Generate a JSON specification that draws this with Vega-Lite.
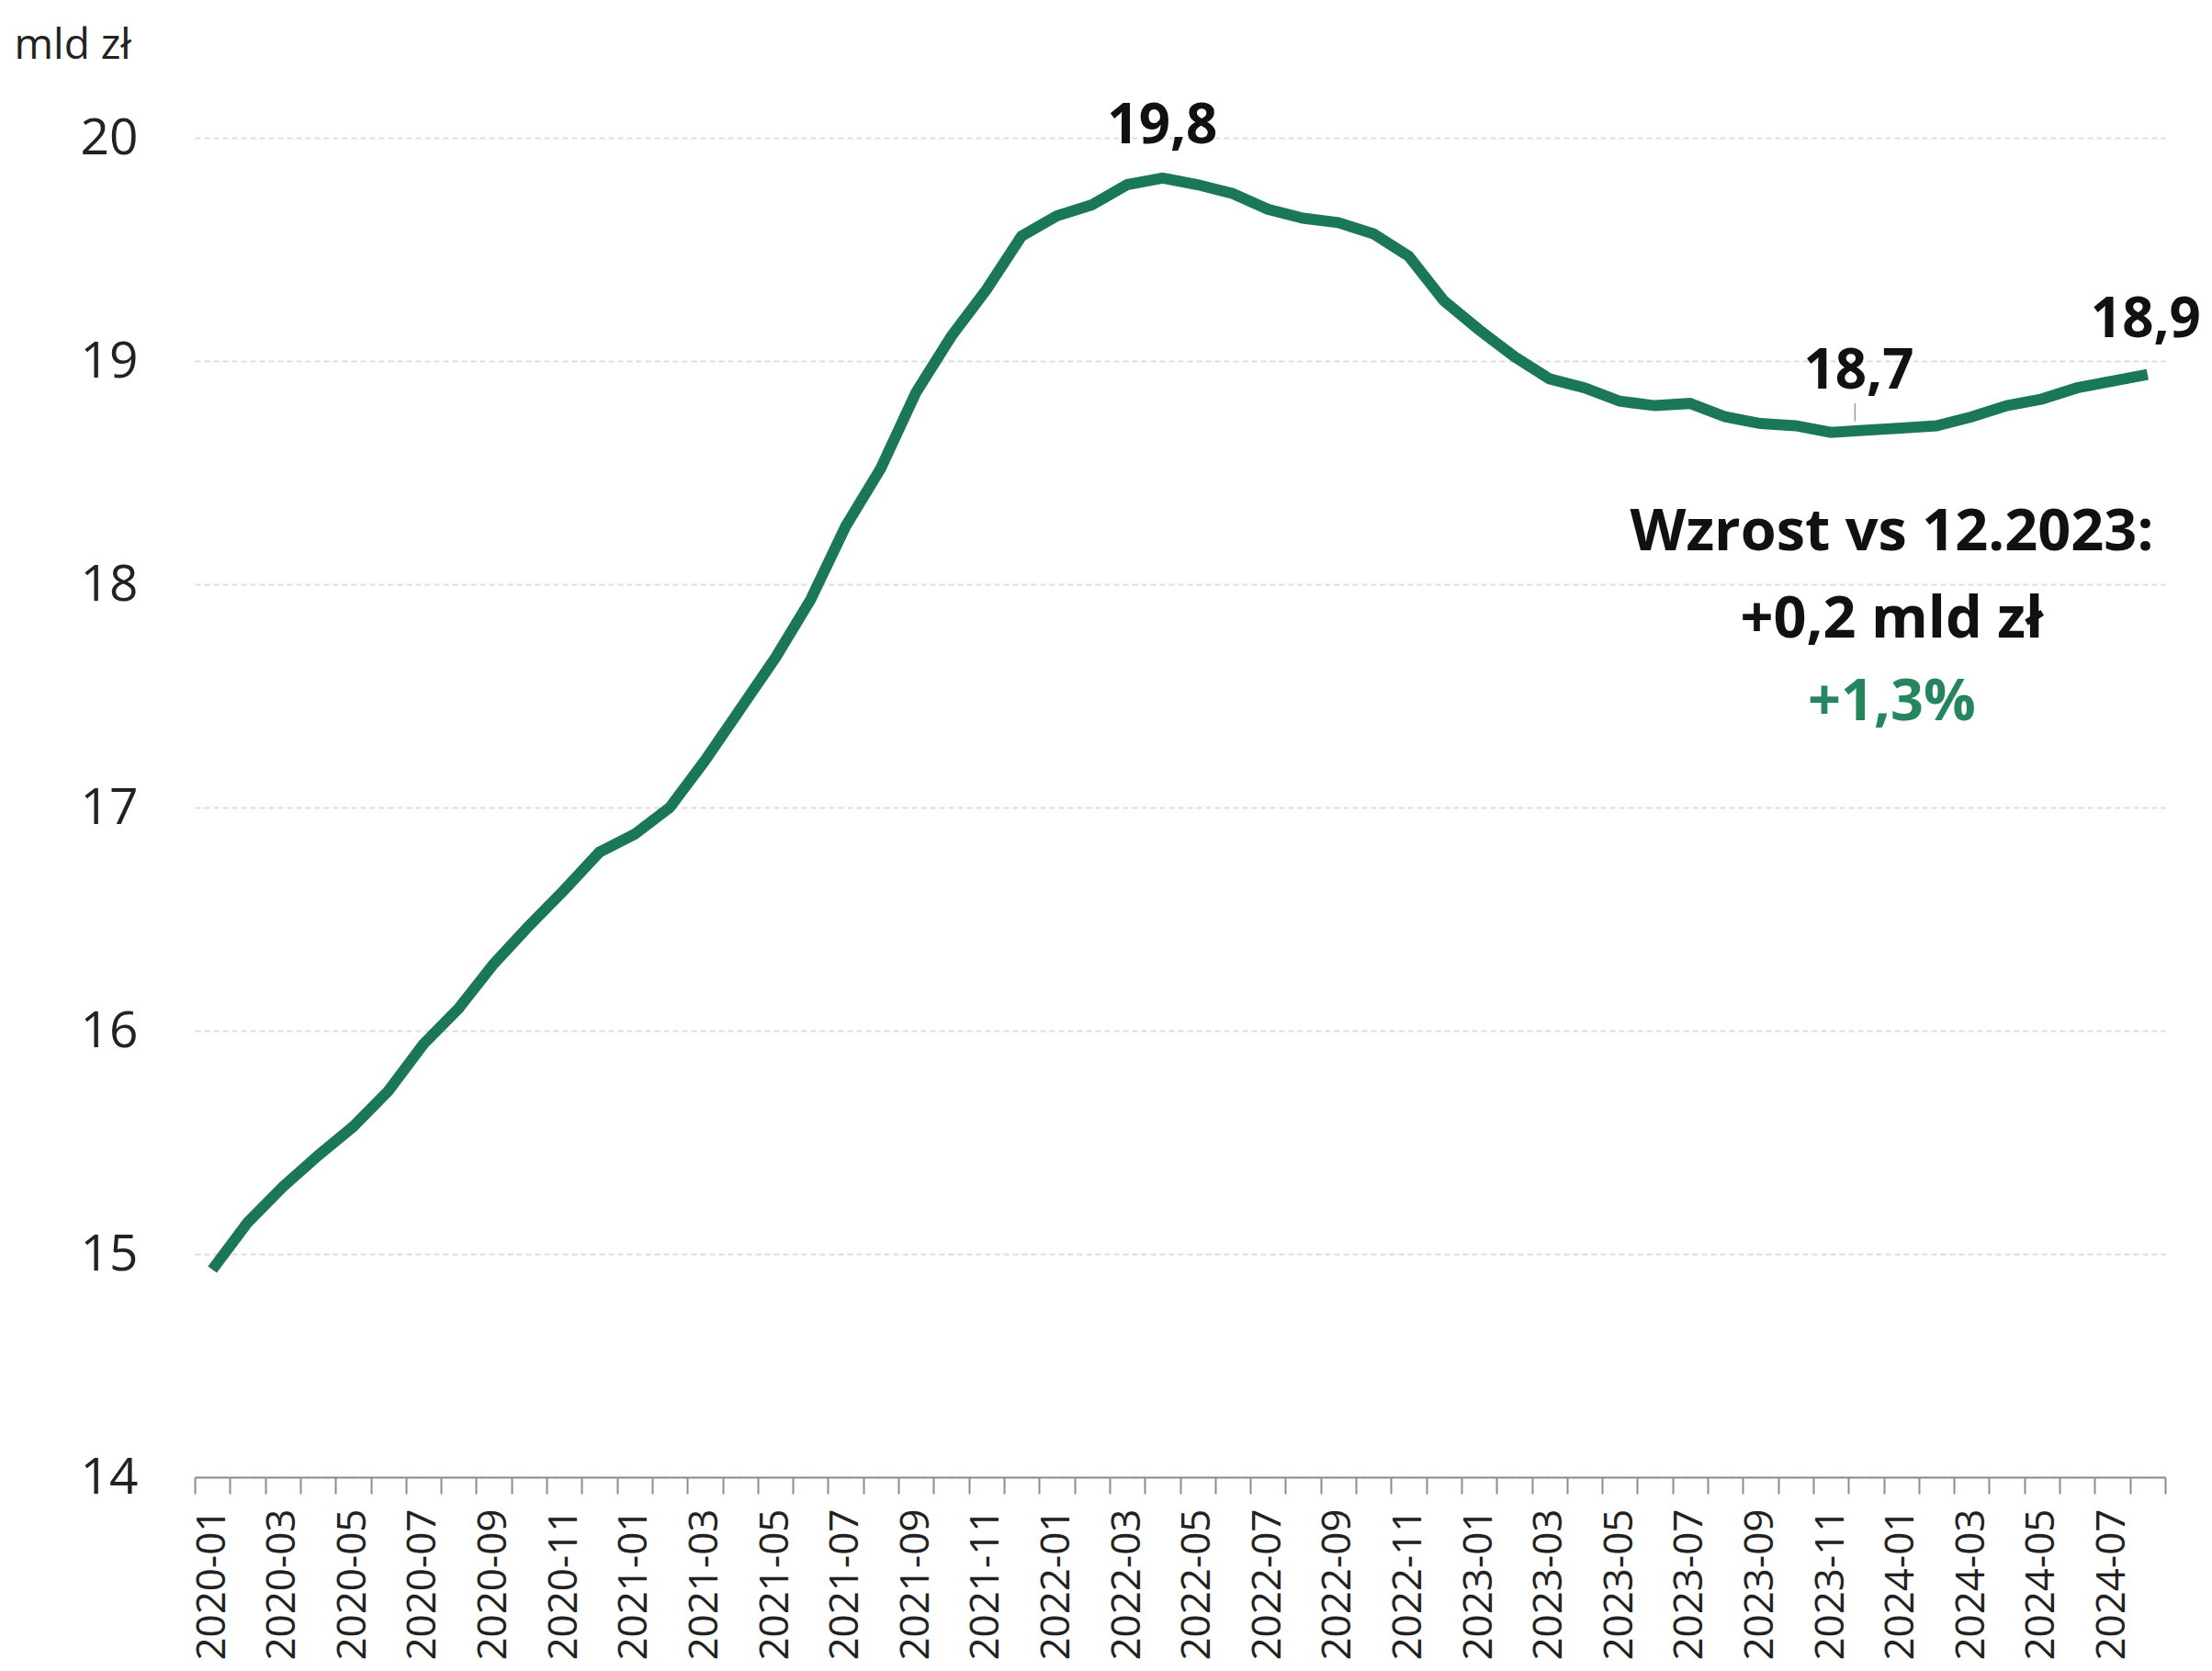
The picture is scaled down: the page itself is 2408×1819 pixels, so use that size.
{
  "$schema": "https://vega.github.io/schema/vega-lite/v6.json",
  "width": 2145,
  "height": 1458,
  "padding": {"left": 15, "top": 26, "right": 5, "bottom": 5},
  "background": "white",
  "config": {
    "view": {"stroke": null},
    "font": "Open Sans"
  },
  "datasets": {
    "series": [
      {"month": "2020-01", "value": 14.93},
      {"month": "2020-02", "value": 15.14},
      {"month": "2020-03", "value": 15.30},
      {"month": "2020-04", "value": 15.44},
      {"month": "2020-05", "value": 15.57},
      {"month": "2020-06", "value": 15.73},
      {"month": "2020-07", "value": 15.94},
      {"month": "2020-08", "value": 16.10},
      {"month": "2020-09", "value": 16.30},
      {"month": "2020-10", "value": 16.47},
      {"month": "2020-11", "value": 16.63},
      {"month": "2020-12", "value": 16.80},
      {"month": "2021-01", "value": 16.88},
      {"month": "2021-02", "value": 17.00},
      {"month": "2021-03", "value": 17.21},
      {"month": "2021-04", "value": 17.44},
      {"month": "2021-05", "value": 17.67},
      {"month": "2021-06", "value": 17.93},
      {"month": "2021-07", "value": 18.26},
      {"month": "2021-08", "value": 18.52},
      {"month": "2021-09", "value": 18.86},
      {"month": "2021-10", "value": 19.11},
      {"month": "2021-11", "value": 19.32},
      {"month": "2021-12", "value": 19.56},
      {"month": "2022-01", "value": 19.65},
      {"month": "2022-02", "value": 19.70},
      {"month": "2022-03", "value": 19.79},
      {"month": "2022-04", "value": 19.82},
      {"month": "2022-05", "value": 19.79},
      {"month": "2022-06", "value": 19.75},
      {"month": "2022-07", "value": 19.68},
      {"month": "2022-08", "value": 19.64},
      {"month": "2022-09", "value": 19.62},
      {"month": "2022-10", "value": 19.57},
      {"month": "2022-11", "value": 19.47},
      {"month": "2022-12", "value": 19.27},
      {"month": "2023-01", "value": 19.14},
      {"month": "2023-02", "value": 19.02},
      {"month": "2023-03", "value": 18.92},
      {"month": "2023-04", "value": 18.88},
      {"month": "2023-05", "value": 18.82},
      {"month": "2023-06", "value": 18.80},
      {"month": "2023-07", "value": 18.81},
      {"month": "2023-08", "value": 18.75},
      {"month": "2023-09", "value": 18.72},
      {"month": "2023-10", "value": 18.71},
      {"month": "2023-11", "value": 18.68},
      {"month": "2023-12", "value": 18.69},
      {"month": "2024-01", "value": 18.70},
      {"month": "2024-02", "value": 18.71},
      {"month": "2024-03", "value": 18.75},
      {"month": "2024-04", "value": 18.80},
      {"month": "2024-05", "value": 18.83},
      {"month": "2024-06", "value": 18.88},
      {"month": "2024-07", "value": 18.91},
      {"month": "2024-08", "value": 18.94}
    ]
  },
  "layer": [
    {
      "data": {"name": "series"},
      "mark": {"type": "line", "color": "#1a7857", "strokeWidth": 12},
      "encoding": {
        "x": {
          "field": "month", "type": "ordinal",
          "scale": {"type": "band", "paddingInner": 0, "paddingOuter": 0},
          "axis": {
            "title": null,
            "tickBand": "extent",
            "labelAngle": -90,
            "labelAlign": "right",
            "labelBaseline": "middle",
            "labelFontSize": 44,
            "labelColor": "#222222",
            "labelPadding": 16,
            "labelOverlap": false,
            "labelExpr": "indexof(['01','03','05','07','09','11'], substring(datum.value + '', 5, 7)) >= 0 ? datum.value + '' : ''",
            "domainColor": "#8c8c8c",
            "domainWidth": 2,
            "tickColor": "#8c8c8c",
            "tickWidth": 2,
            "tickSize": 18,
            "grid": false
          }
        },
        "y": {
          "field": "value", "type": "quantitative",
          "scale": {"domain": [14, 20], "nice": false, "zero": false},
          "axis": {
            "values": [14, 15, 16, 17, 18, 19, 20],
            "format": "d",
            "title": "mld zł",
            "titleAngle": 0,
            "titleAlign": "left",
            "titleBaseline": "middle",
            "titleX": -197,
            "titleY": -101,
            "titleFontSize": 46,
            "titleFontWeight": "normal",
            "titleColor": "#222222",
            "labelFontSize": 55,
            "labelColor": "#222222",
            "labelPadding": 62,
            "ticks": false,
            "domain": false,
            "grid": true,
            "gridColor": "#dedede",
            "gridWidth": 2,
            "gridDash": [6, 4]
          }
        }
      }
    },
    {
      "data": {"values": [{"month": "2023-12", "from": 18.73, "to": 18.81}]},
      "mark": {"type": "rule", "color": "#9a9a9a", "strokeWidth": 1.5, "xOffset": -12},
      "encoding": {
        "x": {"field": "month", "type": "ordinal"},
        "y": {"field": "from", "type": "quantitative"},
        "y2": {"field": "to"}
      }
    },
    {
      "data": {"values": [
        {"month": "2022-04", "value": 20.05, "label": "19,8"}
      ]},
      "mark": {"type": "text", "fontSize": 60, "fontWeight": "bold", "color": "#111111", "align": "center", "baseline": "middle", "dx": 0},
      "encoding": {
        "x": {"field": "month", "type": "ordinal"},
        "y": {"field": "value", "type": "quantitative"},
        "text": {"field": "label"}
      }
    },
    {
      "data": {"values": [
        {"month": "2023-12", "value": 18.95, "label": "18,7"}
      ]},
      "mark": {"type": "text", "fontSize": 60, "fontWeight": "bold", "color": "#111111", "align": "center", "baseline": "middle", "dx": -8},
      "encoding": {
        "x": {"field": "month", "type": "ordinal"},
        "y": {"field": "value", "type": "quantitative"},
        "text": {"field": "label"}
      }
    },
    {
      "data": {"values": [
        {"month": "2024-08", "value": 19.18, "label": "18,9"}
      ]},
      "mark": {"type": "text", "fontSize": 60, "fontWeight": "bold", "color": "#111111", "align": "center", "baseline": "middle", "dx": -2},
      "encoding": {
        "x": {"field": "month", "type": "ordinal"},
        "y": {"field": "value", "type": "quantitative"},
        "text": {"field": "label"}
      }
    },
    {
      "data": {"values": [
        {"month": "2023-12", "value": 18.23, "label": "Wzrost vs 12.2023:"},
        {"month": "2023-12", "value": 17.84, "label": "+0,2 mld zł"}
      ]},
      "mark": {"type": "text", "fontSize": 63, "fontWeight": "bold", "color": "#111111", "align": "center", "baseline": "middle", "dx": 28},
      "encoding": {
        "x": {"field": "month", "type": "ordinal"},
        "y": {"field": "value", "type": "quantitative"},
        "text": {"field": "label"}
      }
    },
    {
      "data": {"values": [
        {"month": "2023-12", "value": 17.47, "label": "+1,3%"}
      ]},
      "mark": {"type": "text", "fontSize": 63, "fontWeight": "bold", "color": "#24855f", "align": "center", "baseline": "middle", "dx": 28},
      "encoding": {
        "x": {"field": "month", "type": "ordinal"},
        "y": {"field": "value", "type": "quantitative"},
        "text": {"field": "label"}
      }
    }
  ]
}
